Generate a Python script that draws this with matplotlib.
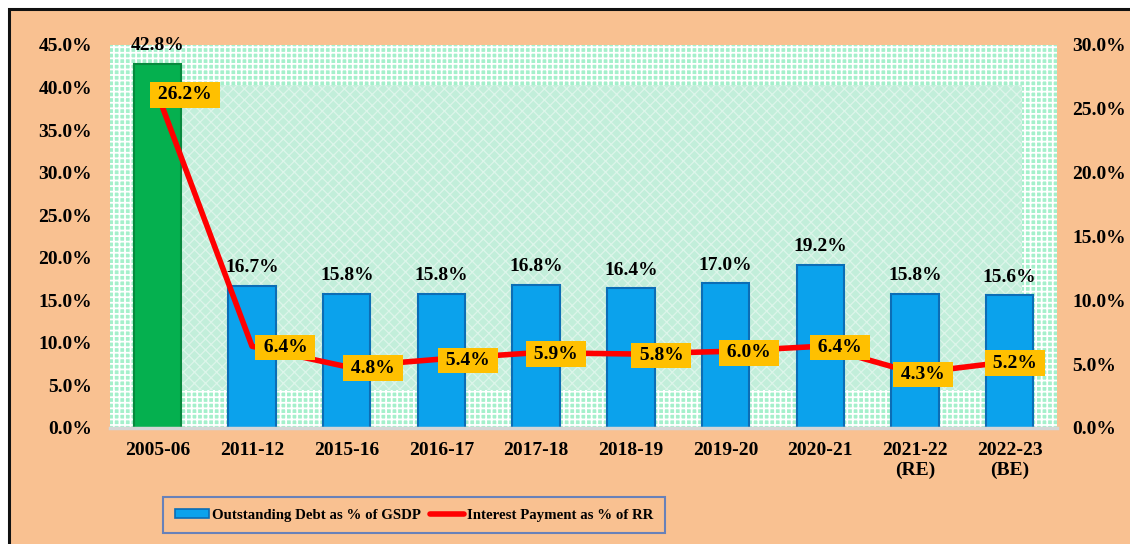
import matplotlib
matplotlib.use("Agg")
import matplotlib.pyplot as plt
from matplotlib.patches import Rectangle
from matplotlib.lines import Line2D
from matplotlib.ticker import FuncFormatter, MultipleLocator

# Data
years = ["2005-06", "2011-12", "2015-16", "2016-17", "2017-18", "2018-19",
         "2019-20", "2020-21", "2021-22\n(RE)", "2022-23\n(BE)"]
debt_gsdp = [42.8, 16.7, 15.8, 15.8, 16.8, 16.4, 17.0, 19.2, 15.8, 15.6]
interest_rr = [26.2, 6.4, 4.8, 5.4, 5.9, 5.8, 6.0, 6.4, 4.3, 5.2]

# horizontal nudges (points) of the interest-rate call-outs
label_dx = [20, 24, 19, 19, 14, 22, 17, 14, 6, 4]

PEACH = "#F9C191"
FONT = "Liberation Serif"
FS = 14
plt.rcParams["font.family"] = [FONT, "DejaVu Serif"]

fig = plt.figure(figsize=(11.3, 5.44), dpi=100, facecolor="white")
W, H = 1130, 544

# Framed peach panel behind everything
fig.patches.append(Rectangle((9 / W, -0.05), 1.1, 1 - 9 / H + 0.05,
                             transform=fig.transFigure, facecolor=PEACH,
                             edgecolor="#111111", linewidth=2.2, zorder=-10))

plt.rcParams["hatch.linewidth"] = 1.3
ax = fig.add_axes([110 / W, 1 - 428 / H, 947 / W, 383 / H])
ax.set_facecolor("#A4F0CB")
ax.patch.set_hatch("+++")
ax.patch.set_edgecolor("white")

# softer inner panel of the backdrop
plt.rcParams["hatch.linewidth"] = 0.9
ax.add_patch(Rectangle((0.076, 0.099), 0.887, 0.797, transform=ax.transAxes,
                       facecolor="#C2EEDA", edgecolor="none", zorder=0.5))
ax.add_patch(Rectangle((0.076, 0.099), 0.887, 0.797, transform=ax.transAxes,
                       facecolor="none", edgecolor="#DDF5EA", hatch="xxx",
                       linewidth=0, zorder=0.6))

x = list(range(len(years)))
colors = ["#05B04F"] + ["#0BA2EC"] * (len(years) - 1)
edges = ["#07893D"] + ["#0C6DB5"] * (len(years) - 1)
ax.bar(x, debt_gsdp, width=0.5, color=colors, edgecolor=edges,
       linewidth=1.5, zorder=2)

for xi, v in zip(x, debt_gsdp):
    ax.annotate(f"{v:.1f}%", (xi, v), xytext=(0, 7), textcoords="offset points",
                ha="center", va="bottom", fontsize=FS, fontweight="bold",
                zorder=6)

ax.set_xlim(-0.5, len(years) - 0.5)
ax.set_ylim(0, 45)
ax.yaxis.set_major_locator(MultipleLocator(5))
ax.yaxis.set_major_formatter(FuncFormatter(lambda v, p: f"{v:.1f}%"))
ax.set_xticks(x)
ax.set_xticklabels(years)

ax2 = ax.twinx()
ax2.set_ylim(0, 30)
ax2.yaxis.set_major_locator(MultipleLocator(5))
ax2.yaxis.set_major_formatter(FuncFormatter(lambda v, p: f"{v:.1f}%"))
ax2.plot(x, interest_rr, color="#FF0000", linewidth=4, zorder=3,
         solid_capstyle="round")
for xi, v, dx in zip(x, interest_rr, label_dx):
    ax2.annotate(f"\u2009{v:.1f}%\u2009", (xi, v), xytext=(dx, -1),
                 textcoords="offset points", ha="center", va="center",
                 fontsize=FS, fontweight="bold",
                 bbox=dict(boxstyle="square,pad=0.22", facecolor="#FFC000",
                           edgecolor="none"), zorder=7)

for a in (ax, ax2):
    for s in a.spines.values():
        s.set_visible(False)
    a.tick_params(length=0, labelsize=FS)
    for lab in a.get_xticklabels() + a.get_yticklabels():
        lab.set_fontweight("bold")
ax.spines["bottom"].set_visible(True)
ax.spines["bottom"].set_color("#D6D6D6")
ax.spines["bottom"].set_linewidth(2.5)
ax.tick_params(axis="y", pad=13)
ax.tick_params(axis="x", pad=10)
ax2.tick_params(axis="y", pad=11)

handles = [Rectangle((0, 0), 1, 1, facecolor="#0BA2EC", edgecolor="#0C6DB5",
                     linewidth=1.2),
           Line2D([0], [0], color="#FF0000", linewidth=4, solid_capstyle="round")]
leg = fig.legend(handles, ["Outstanding Debt as % of GSDP",
                           "Interest Payment as % of RR"],
                 loc="center", bbox_to_anchor=(414 / W, 1 - 515 / H), ncol=2,
                 frameon=True, fancybox=False, handlelength=2.3,
                 handleheight=0.55, handletextpad=0.2, columnspacing=0.6,
                 borderpad=0.8, prop=dict(family=FONT, weight="bold", size=10.7))
leg.get_frame().set_edgecolor("#4472C4")
leg.get_frame().set_linewidth(1.5)
leg.get_frame().set_facecolor(PEACH)

fig.savefig("out.png", dpi=100, facecolor=fig.get_facecolor())
